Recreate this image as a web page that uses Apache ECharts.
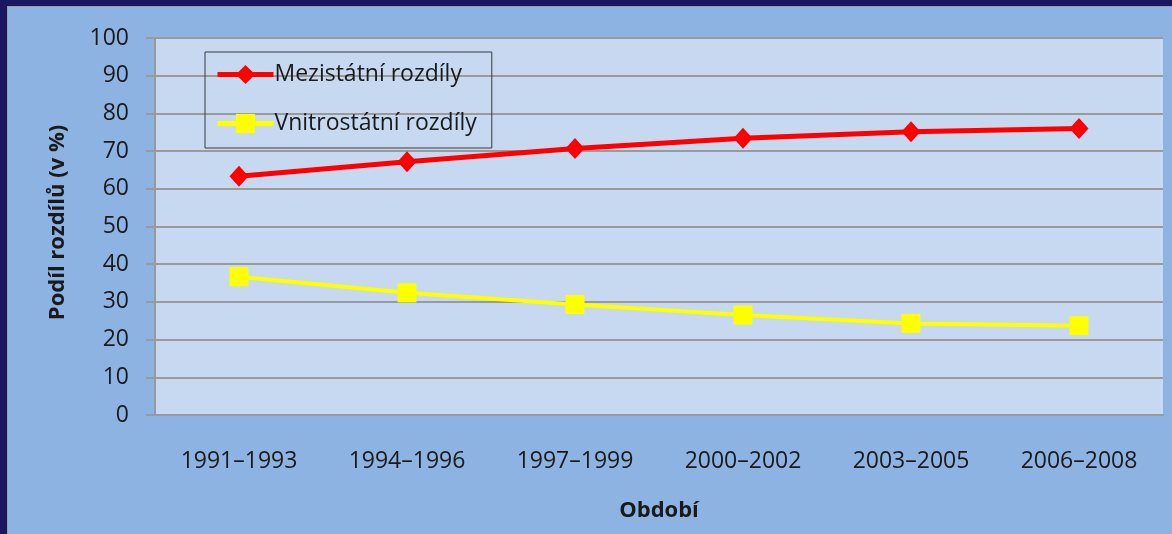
<!DOCTYPE html>
<html>
<head>
<meta charset="utf-8">
<script src="https://cdn.jsdelivr.net/npm/echarts@6/dist/echarts.min.js"></script>
<style>
html,body{margin:0;padding:0;background:#1a1760;}
#chart{width:1172px;height:534px;}
</style>
</head>
<body>
<div id="chart"></div>
<script>
var categories = ['1991–1993','1994–1996','1997–1999','2000–2002','2003–2005','2006–2008'];
var mezistatni = [63.3, 67.2, 70.7, 73.4, 75.1, 76.0];
var vnitrostatni = [36.7, 32.4, 29.3, 26.5, 24.3, 23.7];
var seriesNames = ['Mezistátní rozdíly', 'Vnitrostátní rozdíly'];
var yAxisName = 'Podíl rozdílů (v %)';
var xAxisName = 'Období';

var FONT = 'Open Sans';
var chart = echarts.init(document.getElementById('chart'));
chart.setOption({
  backgroundColor: '#8db3e2',
  animation: false,
  graphic: [
    {type:'rect', shape:{x:0,y:0,width:1172,height:6}, style:{fill:'#1a1760'}, z:100},
    {type:'rect', shape:{x:0,y:0,width:7,height:534}, style:{fill:'#1a1760'}, z:100},
    {type:'rect', shape:{x:7,y:6,width:1165,height:1}, style:{fill:'#9a9cb0'}, z:100},
    {type:'rect', shape:{x:7,y:6,width:1,height:528}, style:{fill:'#9a9cb0'}, z:100}
  ],
  grid: {
    left: 155, top: 38, right: 9, bottom: 119,
    show: true, backgroundColor: '#c6d9f0', borderWidth: 0
  },
  legend: {
    orient: 'vertical',
    left: 205, top: 52,
    padding: [11, 15, 13, 10],
    itemWidth: 56, itemHeight: 24, itemGap: 26,
    borderColor: '#3a3a3a', borderWidth: 1,
    lineStyle: {width: 5},
    textStyle: {fontFamily: FONT, fontSize: 23, color: '#1a1a1a', padding: [0,0,0,-4]},
    data: [
      {name: seriesNames[0], lineStyle: {width: 5, color: '#ff0000'}, itemStyle: {color: '#ff0000'}},
      {name: seriesNames[1], lineStyle: {width: 5, color: '#ffff00'}, itemStyle: {color: '#ffff00'}}
    ]
  },
  xAxis: {
    type: 'category',
    data: categories,
    boundaryGap: true,
    name: xAxisName,
    nameLocation: 'middle',
    nameGap: 85,
    nameTextStyle: {fontFamily: FONT, fontSize: 22, fontWeight: 'bold', color: '#1a1a1a'},
    axisLine: {lineStyle: {color: '#9a9a9a', width: 2}},
    axisTick: {show: false},
    axisLabel: {fontFamily: FONT, fontSize: 23, color: '#1a1a1a', margin: 35}
  },
  yAxis: {
    type: 'value',
    min: 0, max: 100, interval: 10,
    name: yAxisName,
    nameLocation: 'middle',
    nameGap: 86,
    nameTextStyle: {fontFamily: FONT, fontSize: 22, fontWeight: 'bold', color: '#1a1a1a', padding: [0, 0, 0, 8]},
    axisLine: {show: true, lineStyle: {color: '#9a9a9a', width: 2}},
    axisTick: {show: true, length: 9, lineStyle: {color: '#9a9a9a', width: 2}},
    splitLine: {show: true, lineStyle: {color: '#9a9a9a', width: 2}},
    axisLabel: {fontFamily: FONT, fontSize: 23, color: '#1a1a1a', margin: 26}
  },
  series: [
    {
      name: seriesNames[0], type: 'line', data: mezistatni,
      symbol: 'diamond', symbolSize: [19, 21],
      lineStyle: {color: '#ff0000', width: 5},
      itemStyle: {color: '#ff0000'}
    },
    {
      name: seriesNames[1], type: 'line', data: vnitrostatni,
      symbol: 'rect', symbolSize: 19,
      lineStyle: {color: '#ffff00', width: 4},
      itemStyle: {color: '#ffff00'}
    }
  ]
});
</script>
</body>
</html>
